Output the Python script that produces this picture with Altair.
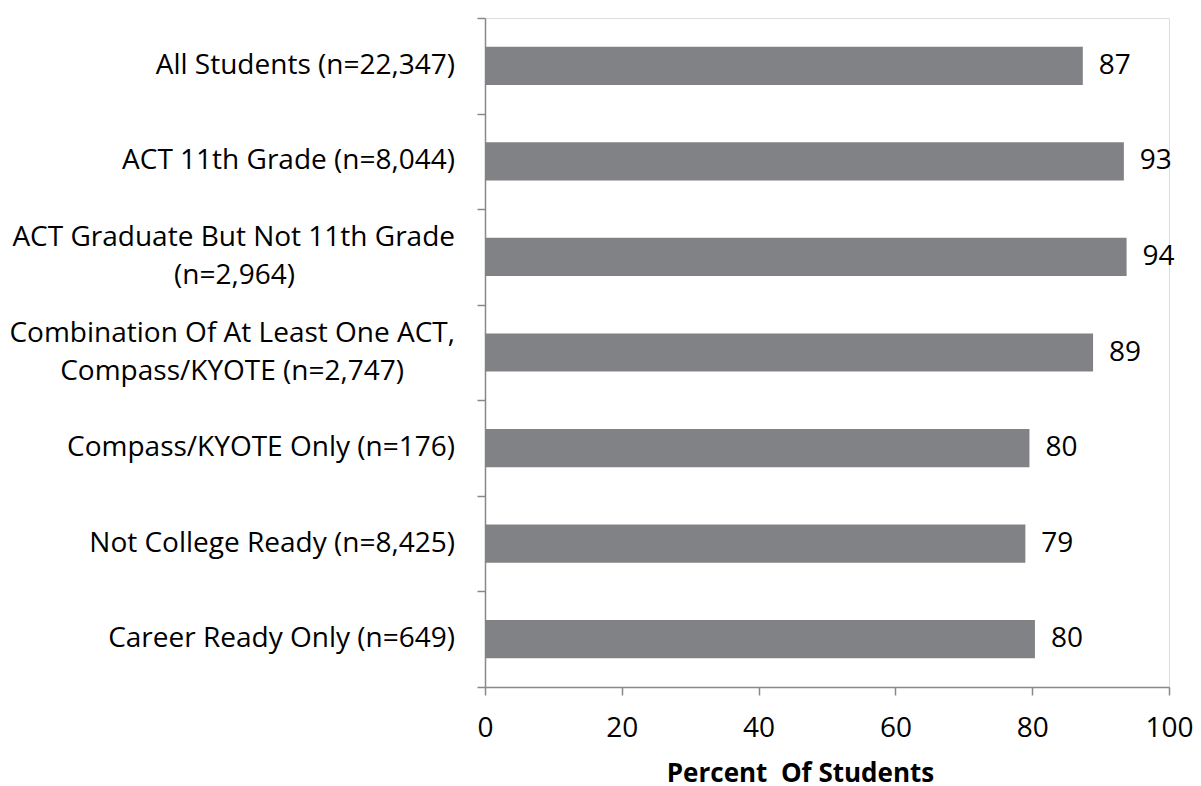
import altair as alt
import pandas as pd

NB = "\u00a0"
ZW = "\u200b"
categories = [
    "All Students (n=22,347)",
    "ACT 11th Grade (n=8,044)",
    "ACT Graduate But Not 11th Grade\n(n=2,964)" + NB * 22 + ZW,
    "Combination Of At Least One ACT,\nCompass/KYOTE (n=2,747)" + NB * 7 + ZW,
    "Compass/KYOTE Only (n=176)",
    "Not College Ready (n=8,425)",
    "Career Ready Only (n=649)",
]
values = [87.4, 93.4, 93.8, 88.9, 79.6, 79.0, 80.4]
value_labels = ["87", "93", "94", "89", "80", "79", "80"]
x_ticks = [0, 20, 40, 60, 80, 100]

df = pd.DataFrame({
    "group": categories,
    "pct": values,
    "lab": value_labels,
    "nlines": [len(c.split("\n")) for c in categories],
})

FONT = "Open Sans"
AXIS_COLOR = "#898989"
BAR_COLOR = "#818285"

y_enc = alt.Y(
    "group:N",
    sort=None,
    scale=alt.Scale(paddingInner=0, paddingOuter=0),
    axis=alt.Axis(
        title=None,
        labels=False,
        tickBand="extent",
        tickSize=8,
        tickColor=AXIS_COLOR,
        domainColor=AXIS_COLOR,
        domainWidth=1.5,
        tickWidth=1.5,
    ),
)

x_enc = alt.X(
    "pct:Q",
    scale=alt.Scale(domain=[0, 100], nice=False),
    axis=alt.Axis(
        title="Percent\u00a0 Of Students",
        values=x_ticks,
        grid=False,
        labelFlush=False,
        labelFontSize=28,
        labelFont=FONT,
        labelColor="#000000",
        labelPadding=19,
        tickSize=8,
        tickColor=AXIS_COLOR,
        domainColor=AXIS_COLOR,
        domainWidth=1.5,
        tickWidth=1.5,
        titleFont=FONT,
        titleFontSize=26,
        titleFontWeight="bold",
        titleColor="#000000",
        titleX=315,
        titleY=94,
        titleAnchor="middle",
        titleBaseline="alphabetic",
    ),
)

bars = alt.Chart(df).mark_bar(
    color=BAR_COLOR, height=alt.RelativeBandSize(0.4)
).encode(y=y_enc, x=x_enc)

texts = alt.Chart(df).mark_text(
    align="left", baseline="middle", dx=16, fontSize=28, font=FONT, color="#000000"
).encode(y=alt.Y("group:N", sort=None), x="pct:Q", text="lab:N")

cat_single = alt.Chart(df).transform_filter("datum.nlines == 1").mark_text(
    align="right", baseline="middle", fontSize=28, font=FONT, color="#000000"
).encode(y=alt.Y("group:N", sort=None), x=alt.value(-30), text="group:N")

cat_multi = alt.Chart(df).transform_filter("datum.nlines > 1").mark_text(
    align="right", baseline="line-bottom", fontSize=28, font=FONT, color="#000000",
    lineBreak="\n", lineHeight=38,
).encode(y=alt.Y("group:N", sort=None), x=alt.value(-30), text="group:N")

chart = (
    alt.layer(bars, texts, cat_single, cat_multi)
    .properties(
        width=684,
        height=669,
        autosize=alt.AutoSizeParams(type="none"),
        padding={"left": 477, "top": 10, "right": 24, "bottom": 98},
    )
    .configure_view(stroke=None)
    .configure(background="white")
)

chart.save("out.html", embed_options={"renderer": "svg", "actions": False})
